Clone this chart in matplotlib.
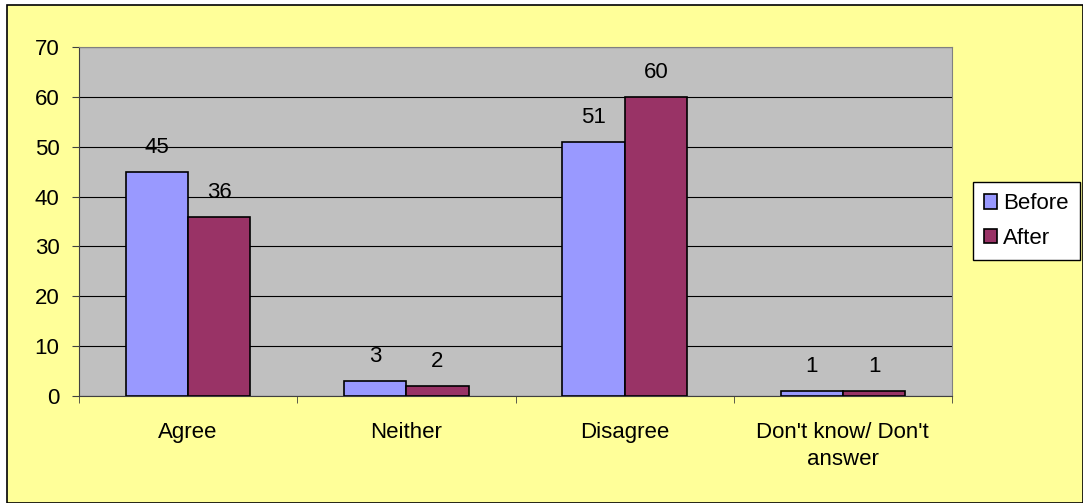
import numpy as np
import matplotlib.pyplot as plt
from matplotlib.patches import Rectangle

plt.rcParams['font.family'] = ['Liberation Sans', 'DejaVu Sans']

categories = ["Agree", "Neither", "Disagree", "Don't know/ Don't\nanswer"]
before = [45, 3, 51, 1]
after = [36, 2, 60, 1]

fs = 16

fig = plt.figure(figsize=(10.83, 5.03), dpi=100)
fig.patch.set_facecolor('white')
# yellow chart area with black border
fig.patches.append(Rectangle((7 / 1083, 0), 1 - 7 / 1083, 1 - 5 / 503,
                             transform=fig.transFigure, facecolor='#FFFF99',
                             edgecolor='black', linewidth=1.2, zorder=-10))

ax = fig.add_axes([79 / 1083, 1 - 396 / 503, (952 - 79) / 1083, (396 - 47) / 503])
ax.set_facecolor('#C0C0C0')

x = np.arange(len(categories))
w = 1 / 3.5
b1 = ax.bar(x - w / 2, before, w, color='#9999FF', edgecolor='black', linewidth=1.2,
            label='Before', zorder=3)
b2 = ax.bar(x + w / 2, after, w, color='#993366', edgecolor='black', linewidth=1.2,
            label='After', zorder=3)
for bars in (b1, b2):
    for r in bars:
        ax.annotate(str(int(r.get_height())), (r.get_x() + r.get_width() / 2, r.get_height()),
                    xytext=(0, 10), textcoords='offset points',
                    ha='center', va='bottom', fontsize=fs)

ax.set_xlim(-0.5, 3.5)
ax.set_ylim(0, 70)
ax.set_yticks(range(0, 71, 10))
ax.yaxis.grid(True, color='black', linewidth=0.8, zorder=0)
ax.set_axisbelow(True)
ax.set_xticks(x)
ax.set_xticklabels(categories, fontsize=fs, linespacing=1.35)
ax.tick_params(axis='x', length=0, pad=19)
ax.set_xticks(np.arange(-0.5, 4, 1), minor=True)
ax.tick_params(axis='x', which='minor', length=5, direction='out', color='#404040')
ax.tick_params(axis='y', labelsize=fs, length=5, direction='out', color='#404040', pad=9)
ax.spines['left'].set_color('#404040')
ax.spines['bottom'].set_color('#404040')
ax.spines['top'].set_color('#808080')
ax.spines['right'].set_color('#808080')

leg = fig.legend(handles=[b1, b2], labels=['Before', 'After'], loc='center left',
                 bbox_to_anchor=(973 / 1083, 1 - 221 / 503), fontsize=fs,
                 frameon=True, fancybox=False, edgecolor='black', framealpha=1,
                 handlelength=0.6, handleheight=0.6, handletextpad=0.25,
                 borderpad=0.5, labelspacing=0.6, borderaxespad=0)
leg.get_frame().set_linewidth(1.0)

fig.savefig('out.png', dpi=100, facecolor=fig.get_facecolor())
